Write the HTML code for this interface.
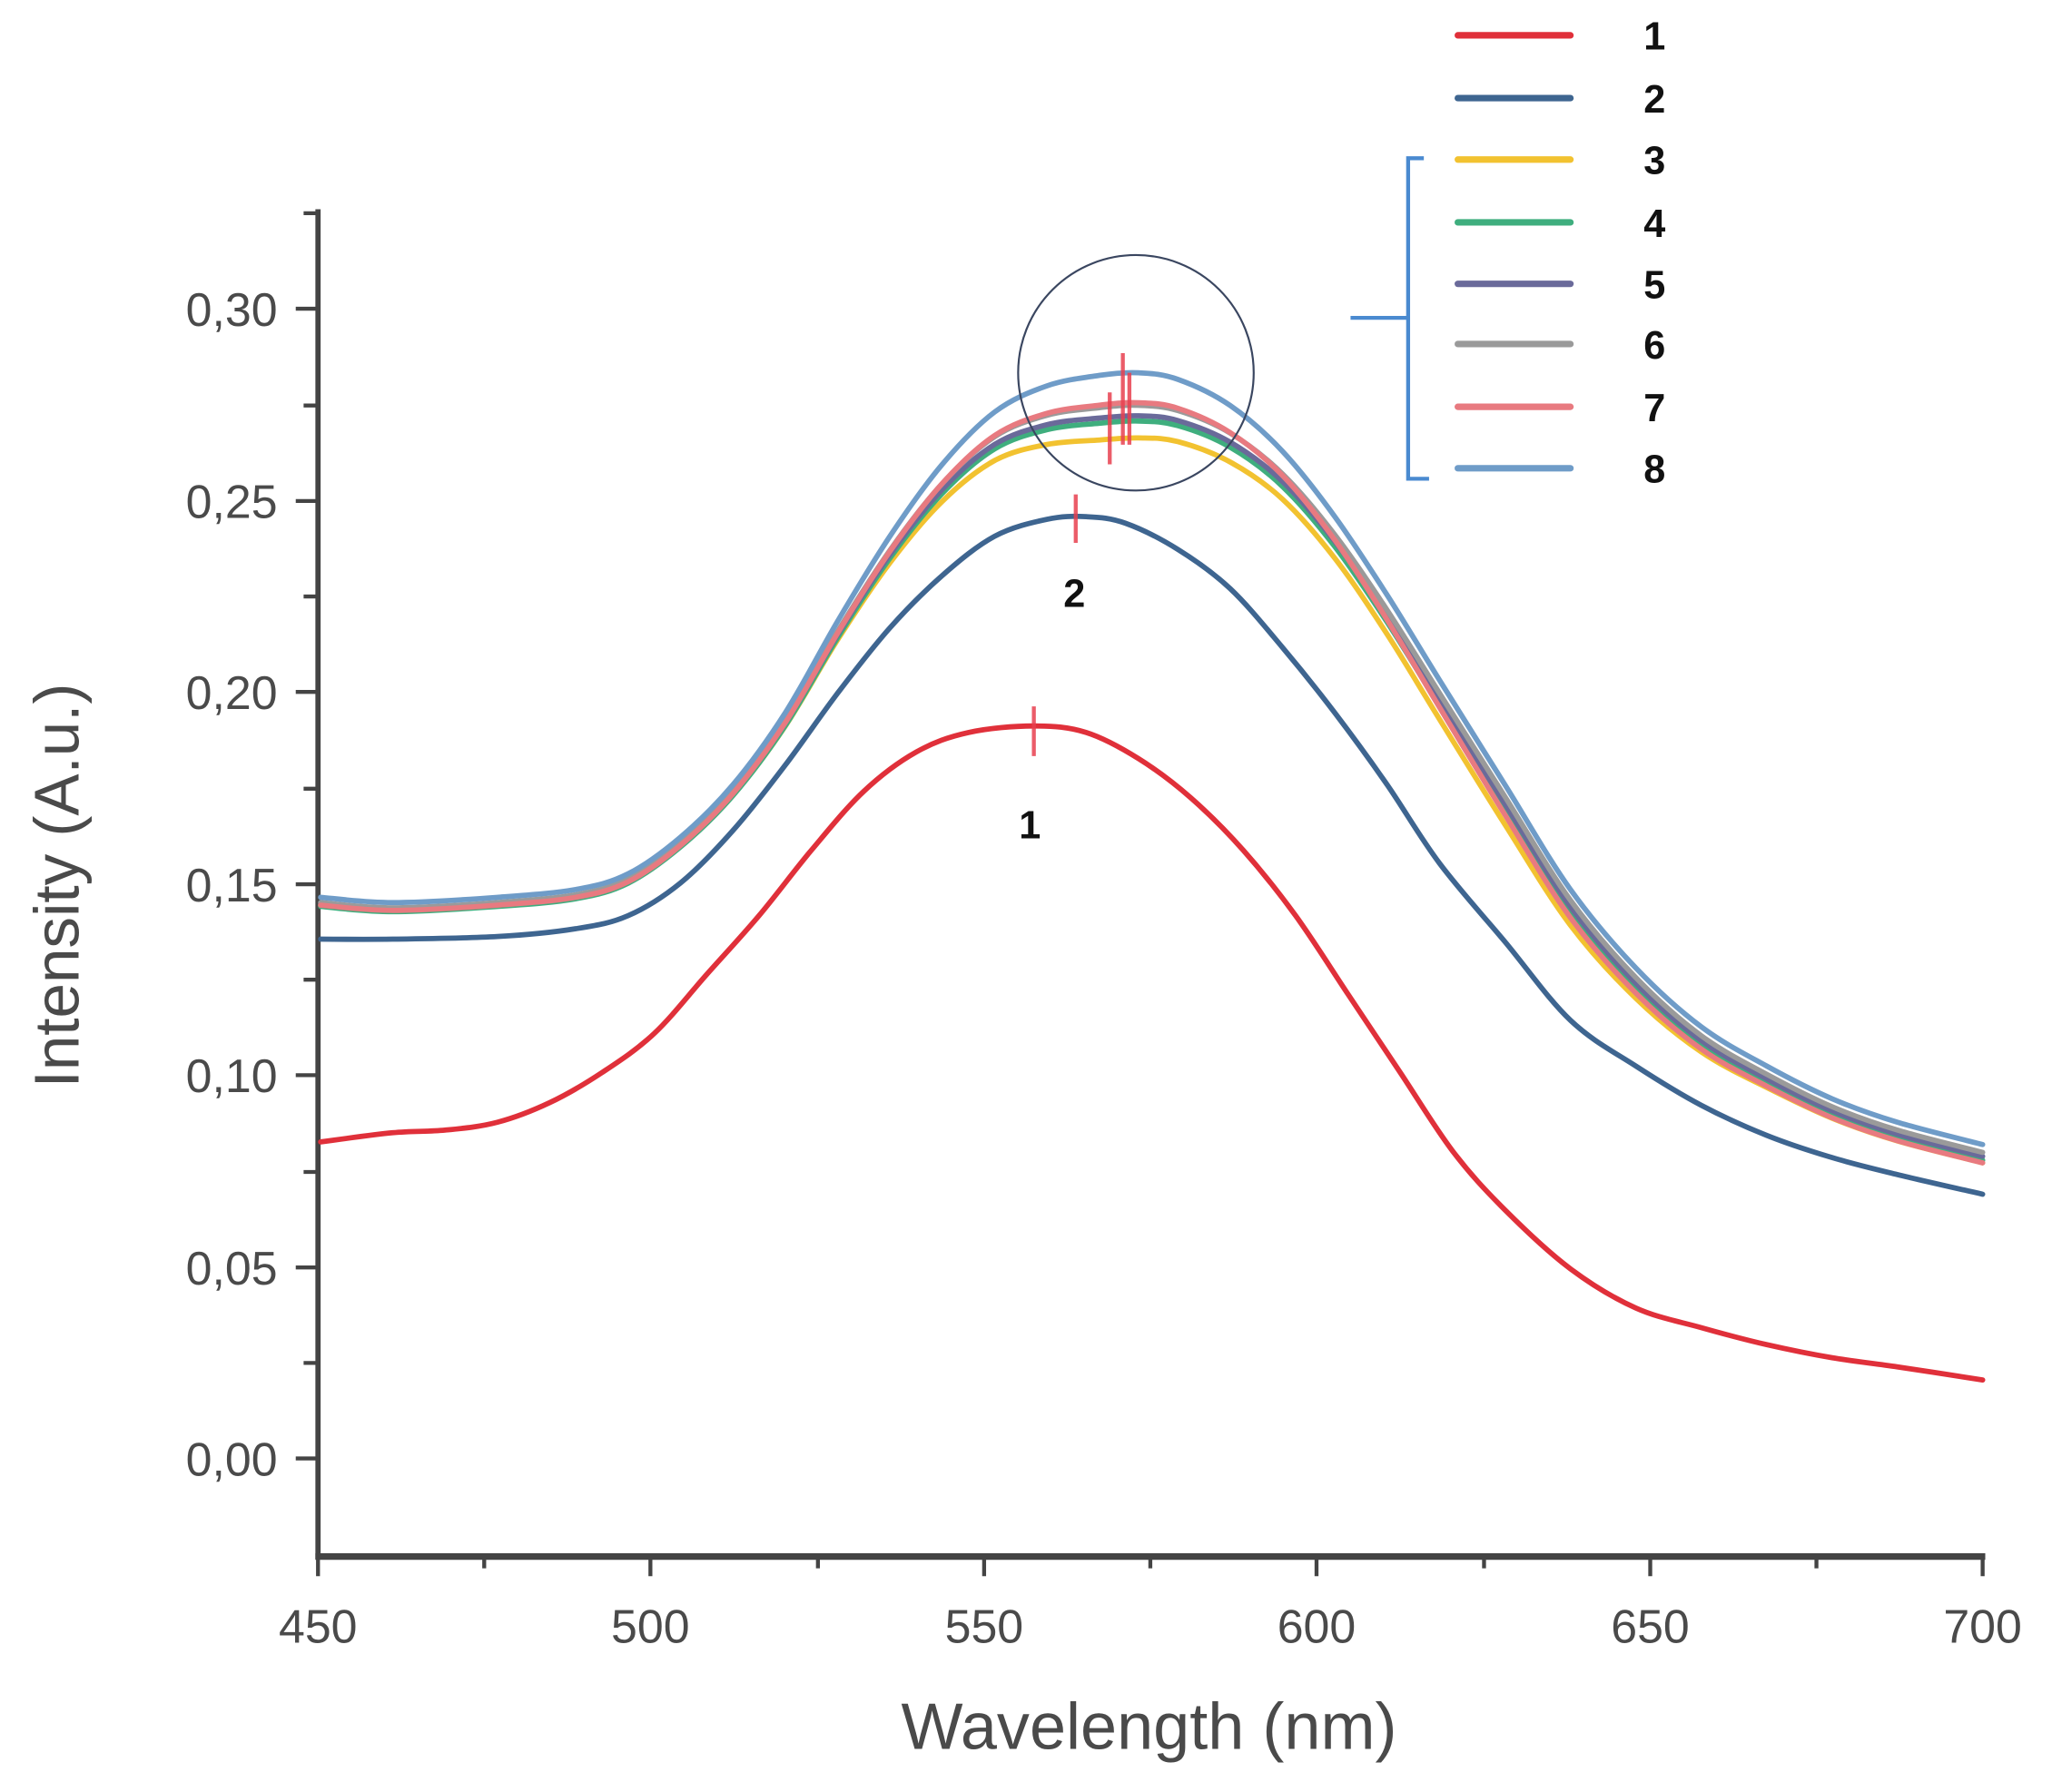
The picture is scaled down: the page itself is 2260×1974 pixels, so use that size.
<!DOCTYPE html>
<html><head><meta charset="utf-8"><style>
html,body{margin:0;padding:0;background:#fff;}
svg{display:block;}
.tl{font-family:"Liberation Sans",sans-serif;font-size:36px;fill:#4a4a4a;}
.lg{font-family:"Liberation Sans",sans-serif;font-size:30px;font-weight:bold;fill:#111;}
</style></head><body>
<svg id="s" width="2260" height="1974" viewBox="0 0 1568 1370" preserveAspectRatio="none" xmlns="http://www.w3.org/2000/svg">
<rect width="1568" height="1370" fill="#fff"/>
<g stroke="#444" fill="none">
<line x1="243" y1="160" x2="243" y2="1192" stroke-width="4"/>
<line x1="241" y1="1190" x2="1517" y2="1190" stroke-width="5"/>
<g stroke-width="3">
<line x1="226" y1="236" x2="243" y2="236"/><line x1="226" y1="383" x2="243" y2="383"/><line x1="226" y1="529" x2="243" y2="529"/><line x1="226" y1="676" x2="243" y2="676"/><line x1="226" y1="822" x2="243" y2="822"/><line x1="226" y1="969" x2="243" y2="969"/><line x1="226" y1="1115" x2="243" y2="1115"/>
<line x1="232" y1="163" x2="243" y2="163"/><line x1="232" y1="310" x2="243" y2="310"/><line x1="232" y1="456" x2="243" y2="456"/><line x1="232" y1="603" x2="243" y2="603"/><line x1="232" y1="749" x2="243" y2="749"/><line x1="232" y1="896" x2="243" y2="896"/><line x1="232" y1="1042" x2="243" y2="1042"/>
<line x1="243" y1="1190" x2="243" y2="1205"/><line x1="497" y1="1190" x2="497" y2="1205"/><line x1="752" y1="1190" x2="752" y2="1205"/><line x1="1006" y1="1190" x2="1006" y2="1205"/><line x1="1261" y1="1190" x2="1261" y2="1205"/><line x1="1515" y1="1190" x2="1515" y2="1205"/>
<line x1="370" y1="1190" x2="370" y2="1199"/><line x1="625" y1="1190" x2="625" y2="1199"/><line x1="879" y1="1190" x2="879" y2="1199"/><line x1="1134" y1="1190" x2="1134" y2="1199"/><line x1="1388" y1="1190" x2="1388" y2="1199"/>
</g></g>
<g class="tl" text-anchor="end">
<text x="212" y="249">0,30</text><text x="212" y="396">0,25</text><text x="212" y="542">0,20</text><text x="212" y="689">0,15</text><text x="212" y="835">0,10</text><text x="212" y="982">0,05</text><text x="212" y="1128">0,00</text>
</g>
<g class="tl" text-anchor="middle">
<text x="243" y="1256">450</text><text x="497" y="1256">500</text><text x="752" y="1256">550</text><text x="1006" y="1256">600</text><text x="1261" y="1256">650</text><text x="1515" y="1256">700</text>
<text x="878" y="1337" style="font-size:50px">Wavelength (nm)</text>
<text transform="translate(60,677) rotate(-90)" style="font-size:48px">Intensity (A.u.)</text>
</g>
<g id="curves" fill="none" stroke-width="4" stroke-linecap="round"></g>
<g stroke="#e8404f" stroke-width="3" opacity="0.85">
<line x1="790" y1="540" x2="790" y2="578"/><line x1="822" y1="378" x2="822" y2="415"/>
<line x1="848" y1="300" x2="848" y2="355"/><line x1="858" y1="270" x2="858" y2="340"/><line x1="863" y1="285" x2="863" y2="340"/>
</g>
<circle cx="868" cy="285" r="90" fill="none" stroke="#3a4660" stroke-width="1.5"/>
<text class="lg" x="787" y="641" text-anchor="middle">1</text>
<text class="lg" x="821" y="464" text-anchor="middle">2</text>
<g stroke-width="5" stroke-linecap="round">
<line x1="1114" y1="27" x2="1200" y2="27" stroke="#e0303a"/>
<line x1="1114" y1="75" x2="1200" y2="75" stroke="#3e6590"/>
<line x1="1114" y1="122" x2="1200" y2="122" stroke="#f2c230"/>
<line x1="1114" y1="170" x2="1200" y2="170" stroke="#3fae7e"/>
<line x1="1114" y1="217" x2="1200" y2="217" stroke="#6a6a9a"/>
<line x1="1114" y1="263" x2="1200" y2="263" stroke="#9a9a9a"/>
<line x1="1114" y1="311" x2="1200" y2="311" stroke="#e87a80"/>
<line x1="1114" y1="358" x2="1200" y2="358" stroke="#6f9cc8"/>
</g>
<g class="lg">
<text x="1256" y="38">1</text><text x="1256" y="86">2</text><text x="1256" y="133">3</text><text x="1256" y="181">4</text><text x="1256" y="228">5</text><text x="1256" y="274">6</text><text x="1256" y="322">7</text><text x="1256" y="369">8</text>
</g>
<path d="M1088 121 H1076 V366 H1092 M1076 243 H1032" fill="none" stroke="#4a8ad0" stroke-width="3"/>
</svg>
<script>
function cr(p){var d="M"+p[0][0]+" "+p[0][1];for(var i=0;i<p.length-1;i++){var a=p[i-1]||p[i],b=p[i],c=p[i+1],e=p[i+2]||c;
d+=" C"+(b[0]+(c[0]-a[0])/6).toFixed(1)+" "+(b[1]+(c[1]-a[1])/6).toFixed(1)+" "+(c[0]-(e[0]-b[0])/6).toFixed(1)+" "+(c[1]-(e[1]-b[1])/6).toFixed(1)+" "+c[0]+" "+c[1];}return d;}
var c1=[[245,873],[300,866],[340,864],[380,858],[420,843],[460,820],[500,790],[540,745],[580,700],[620,650],[660,605],[700,575],[740,560],[790,555],[830,560],[870,580],[910,610],[950,650],[990,700],[1030,760],[1070,820],[1110,880],[1150,925],[1200,970],[1250,1000],[1300,1015],[1350,1028],[1400,1038],[1450,1045],[1515,1055]];
var c2=[[245,718],[300,718],[380,716],[440,710],[480,700],[520,675],[560,635],[600,585],[640,530],[680,480],[720,440],[760,410],[800,397],[830,395],[860,400],[900,420],[940,450],[980,495],[1020,545],[1060,600],[1100,660],[1150,720],[1200,780],[1250,815],[1300,845],[1350,868],[1400,885],[1450,898],[1515,913]];
var c8=[[245,686],[300,690],[380,686],[440,680],[480,668],[520,640],[560,600],[600,545],[640,475],[680,410],[720,355],[760,315],[800,295],[840,287],[870,285],[900,290],[940,310],[980,345],[1020,395],[1060,455],[1100,520],[1150,600],[1200,680],[1250,740],[1300,785],[1350,815],[1400,840],[1450,858],[1515,875]];
function var8(dp,base,tail,sh){return c8.map(function(p){var x=p[0];var g=Math.exp(-Math.pow((x-860)/170,2));var t=x>1000?Math.min(1,(x-1000)/150)*tail:0;
var s=x>900?sh*Math.exp(-Math.pow((x-1150)/150,2)):0;return [x,+(p[1]+dp*g+base*(1-g)+t+s).toFixed(1)];});}
var series=[
[var8(50,6,8,14),"#f2c230"],
[var8(37,7,5,6),"#3fae7e"],
[var8(33,5,4,4),"#6a6a9a"],
[var8(25,4,2,2),"#9a9a9a"],
[var8(23,6,8,8),"#e87a80"],
[c8,"#6f9cc8"],
[c2,"#3e6590"],
[c1,"#e0303a"]];
var g=document.getElementById("curves"),h="";
series.forEach(function(s){h+='<path d="'+cr(s[0])+'" stroke="'+s[1]+'"/>';});
g.innerHTML=h;
</script>
</body></html>
